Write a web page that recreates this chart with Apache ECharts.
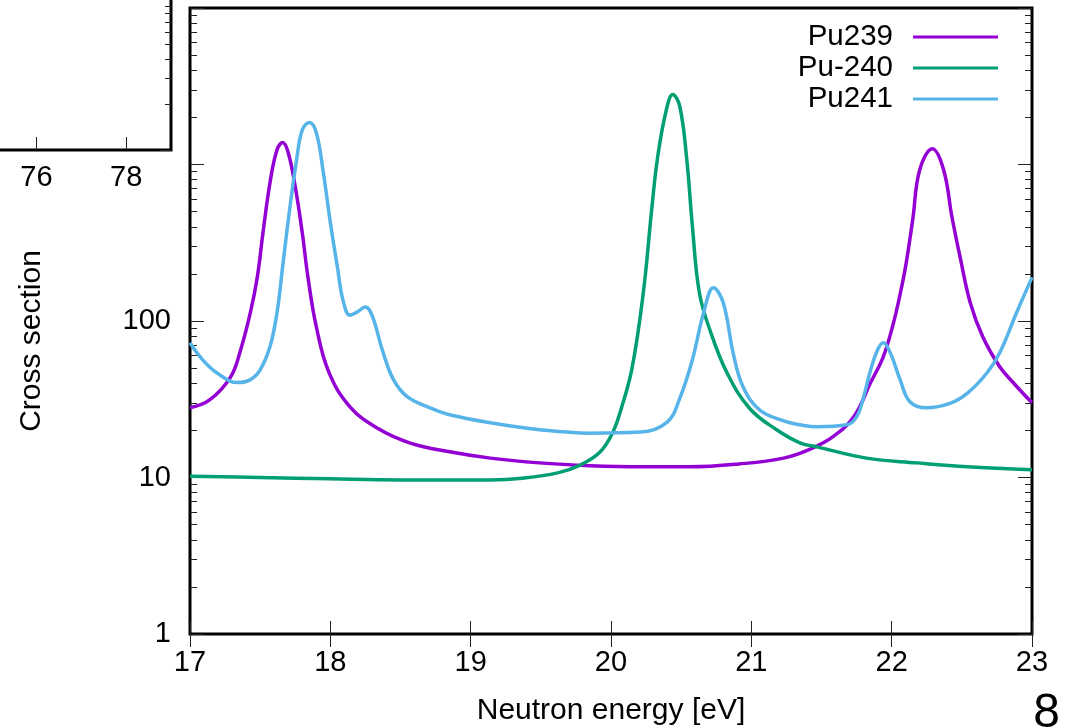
<!DOCTYPE html>
<html>
<head>
<meta charset="utf-8">
<script src="https://cdn.jsdelivr.net/npm/echarts@6/dist/echarts.min.js"></script>
<style>
  html, body { margin: 0; padding: 0; background: #fff; }
  #chart { width: 1077px; height: 727px; }
</style>
</head>
<body>
<div id="chart"></div>
<script>
// values (energy in eV, cross section)
const pu239E = [17.00, 17.14, 17.29, 17.36, 17.43, 17.48, 17.52, 17.57, 17.62, 17.66, 17.70, 17.75, 17.80, 17.84, 17.90, 17.99, 18.14, 18.33, 18.57, 18.85, 19.14, 19.49, 19.85, 20.21, 20.56, 20.91, 21.23, 21.42, 21.58, 21.73, 21.85, 21.94, 22.01, 22.06, 22.10, 22.15, 22.20, 22.29, 22.37, 22.43, 22.49, 22.56, 22.65, 22.77, 22.87, 23.00];
const pu239S = [27.9, 31.3, 44, 65, 113, 192, 366, 765, 1244, 1380, 1190, 721, 366, 192, 92, 47, 28.3, 20.8, 16.6, 14.6, 13.3, 12.4, 11.9, 11.7, 11.7, 12.2, 13.3, 15.2, 18.2, 24.4, 40.4, 59, 95, 148, 225, 444, 926, 1262, 926, 460, 250, 131, 79, 51, 40, 30];

const pu240E = [17.00, 17.50, 18.00, 18.50, 19.14, 19.37, 19.62, 19.78, 19.92, 20.01, 20.07, 20.15, 20.23, 20.29, 20.33, 20.39, 20.44, 20.49, 20.54, 20.58, 20.63, 20.71, 20.83, 20.99, 21.18, 21.35, 21.47, 21.82, 22.18, 22.54, 23.00];
const pu240S = [10.2, 10.0, 9.8, 9.65, 9.65, 9.9, 10.7, 12.0, 14.5, 19.2, 27, 50, 151, 516, 1077, 2150, 2800, 2355, 1077, 403, 151, 85, 46, 27.5, 20.2, 16.6, 15.7, 13.3, 12.4, 11.7, 11.2];

const pu241E = [17.00, 17.09, 17.19, 17.34, 17.43, 17.50, 17.57, 17.62, 17.66, 17.71, 17.76, 17.80, 17.85, 17.90, 17.95, 18.00, 18.05, 18.09, 18.14, 18.19, 18.25, 18.30, 18.37, 18.45, 18.55, 18.71, 18.85, 19.14, 19.49, 19.85, 20.21, 20.40, 20.49, 20.58, 20.66, 20.73, 20.80, 20.87, 20.94, 21.06, 21.23, 21.35, 21.47, 21.68, 21.75, 21.80, 21.85, 21.90, 21.94, 21.99, 22.06, 22.13, 22.25, 22.42, 22.54, 22.68, 22.77, 22.89, 23.00];
const pu241S = [72.6, 56.5, 46.7, 40.4, 42.2, 48.7, 68.6, 113, 222, 516, 1077, 1664, 1852, 1595, 888, 426, 222, 136, 109, 114, 123, 107, 65.5, 42.2, 32.7, 27.9, 25.2, 22.4, 20.2, 19.2, 19.5, 22.6, 32, 56.5, 113, 163, 131, 62.7, 38.1, 27, 23, 21.7, 21.1, 21.7, 24.4, 32.7, 48.7, 65.5, 72.6, 62.7, 42.2, 30.5, 27.9, 29.9, 34.6, 46.7, 62.7, 113, 190];

const seriesNames = ['Pu239', 'Pu-240', 'Pu241'];
const seriesColors = ['#9400d3', '#009e73', '#56b4e9'];

const xTicks = [17, 18, 19, 20, 21, 22, 23];
const yMajor = [1, 10, 100, 1000, 10000];
const yLabelled = [1, 10, 100];
const insetXTicks = [72, 74, 76, 78];

// log minor ticks 2..9 in each decade, placed on a linear log10 axis
function minorLogTicks(majors) {
  const out = [];
  for (let i = 0; i < majors.length - 1; i++) {
    for (let k = 2; k <= 9; k++) out.push(Math.log10(majors[i] * k));
  }
  return out;
}

const zip = (a, b) => a.map((v, i) => [v, b[i]]);

const font = 'Liberation Sans, Arial, Helvetica, sans-serif';
const tickStyle = { color: '#222', width: 1 };

const chart = echarts.init(document.getElementById('chart'));

const option = {
  backgroundColor: '#fff',
  animation: false,
  textStyle: { fontFamily: font, color: '#000' },
  legend: {
    data: seriesNames,
    orient: 'vertical',
    align: 'right',
    right: 74,
    top: 17,
    itemWidth: 85,
    itemHeight: 3,
    itemGap: 1,
    icon: 'rect',
    textStyle: { fontSize: 29.5, color: '#000', fontFamily: font, padding: [0, 15, 0, 0] }
  },
  grid: [
    { left: 190, right: 45, top: 8, bottom: 93, show: true, borderColor: '#000', borderWidth: 3, backgroundColor: 'transparent', outerBoundsMode: 'none' },
    { left: -143, width: 314, top: -152, height: 302, show: true, borderColor: '#000', borderWidth: 3, backgroundColor: '#fff', outerBoundsMode: 'none' }
  ],
  xAxis: [
    {
      type: 'value', gridIndex: 0, position: 'bottom', min: 17, max: 23, interval: 1,
      name: 'Neutron energy [eV]', nameLocation: 'middle', nameGap: 62,
      nameTextStyle: { fontSize: 30, color: '#000', fontFamily: font },
      axisLine: { show: false },
      axisTick: { inside: true, length: 13, lineStyle: tickStyle, customValues: xTicks },
      axisLabel: { fontSize: 29, color: '#000', margin: 14, fontFamily: font },
      splitLine: { show: false }
    },
    {
      type: 'value', gridIndex: 0, position: 'top', min: 17, max: 23, interval: 1,
      axisLine: { show: false },
      axisTick: { inside: true, length: 13, lineStyle: tickStyle },
      axisLabel: { show: false },
      splitLine: { show: false }
    },
    {
      type: 'value', gridIndex: 1, position: 'bottom', min: 72, max: 79, interval: 2,
      axisLine: { show: false },
      axisTick: { inside: true, length: 13, lineStyle: tickStyle, customValues: insetXTicks },
      axisLabel: { fontSize: 29, color: '#000', margin: 13, fontFamily: font, customValues: insetXTicks },
      splitLine: { show: false }
    }
  ],
  yAxis: [
    {
      type: 'log', gridIndex: 0, position: 'left', min: 1, max: 10000, logBase: 10,
      axisLine: { show: false },
      axisTick: { inside: true, length: 14, lineStyle: tickStyle, customValues: yMajor },
      axisLabel: { fontSize: 29, color: '#000', margin: 19, fontFamily: font, customValues: yLabelled },
      splitLine: { show: false }
    },
    {
      type: 'value', gridIndex: 0, position: 'left', min: 0, max: 4,
      axisLine: { show: false },
      axisTick: { inside: true, length: 7, lineStyle: tickStyle, customValues: minorLogTicks(yMajor) },
      axisLabel: { show: false },
      splitLine: { show: false }
    },
    {
      type: 'log', gridIndex: 0, position: 'right', min: 1, max: 10000, logBase: 10,
      axisLine: { show: false },
      axisTick: { inside: true, length: 14, lineStyle: tickStyle, customValues: yMajor },
      axisLabel: { show: false },
      splitLine: { show: false }
    },
    {
      type: 'value', gridIndex: 0, position: 'right', min: 0, max: 4,
      axisLine: { show: false },
      axisTick: { inside: true, length: 7, lineStyle: tickStyle, customValues: minorLogTicks(yMajor) },
      axisLabel: { show: false },
      splitLine: { show: false }
    },
    {
      type: 'value', gridIndex: 1, position: 'right', min: 0, max: 2,
      axisLine: { show: false },
      axisTick: { inside: true, length: 11, lineStyle: tickStyle, customValues: [0, 1, 2] },
      axisLabel: { show: false },
      splitLine: { show: false }
    },
    {
      type: 'value', gridIndex: 1, position: 'right', min: 0, max: 2,
      axisLine: { show: false },
      axisTick: { inside: true, length: 6, lineStyle: tickStyle, customValues: minorLogTicks([1, 10, 100]) },
      axisLabel: { show: false },
      splitLine: { show: false }
    }
  ],
  graphic: [
    {
      type: 'text', x: 32, y: 341, rotation: Math.PI / 2, z: 10,
      style: { text: 'Cross section', fontSize: 30, fill: '#000', fontFamily: font, align: 'center', verticalAlign: 'middle' }
    },
    {
      type: 'text', right: 17, top: 690, z: 10,
      style: { text: '8', fontSize: 48, fill: '#000', fontFamily: font }
    }
  ],
  series: [
    [pu239E, pu239S], [pu240E, pu240S], [pu241E, pu241S]
  ].map((d, i) => ({
    name: seriesNames[i],
    type: 'line',
    xAxisIndex: 0,
    yAxisIndex: 0,
    data: zip(d[0], d[1]),
    showSymbol: false,
    smooth: 0.4,
    color: seriesColors[i],
    lineStyle: { width: 3.5, color: seriesColors[i] },
    z: 2 + i
  }))
};

chart.setOption(option);
</script>
</body>
</html>
